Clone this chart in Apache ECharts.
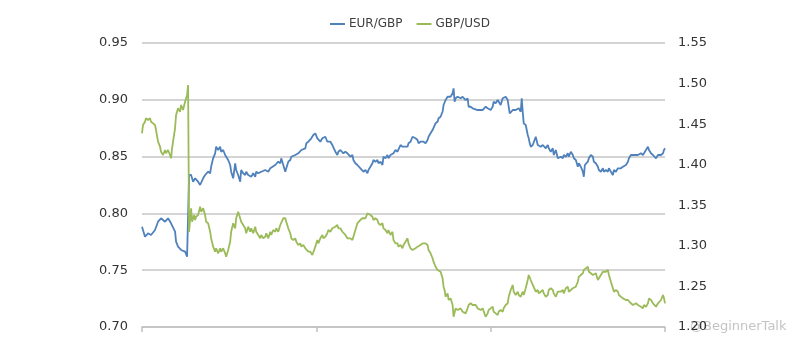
<!DOCTYPE html>
<html>
<head>
<meta charset="utf-8">
<script src="https://cdn.jsdelivr.net/npm/echarts@6/dist/echarts.min.js"></script>
<style>
html,body{margin:0;padding:0;background:#fff;}
#chart{width:797px;height:357px;}
</style>
</head>
<body>
<div id="chart"></div>
<script>
const seriesNames = ['EUR/GBP', 'GBP/USD'];
const leftTicks = [0.70, 0.75, 0.80, 0.85, 0.90, 0.95];
const rightTicks = [1.20, 1.25, 1.30, 1.35, 1.40, 1.45, 1.50, 1.55];

const eurGbpDays = [0,3,6,9,13,16,19,23,26,29,33,34,36,39,43,45,46,47,49,51,53,56,58,59,61,63,66,68,69,71,73,74,76,78,79,81,83,84,86,88,89,91,93,94,96,98,99,101,103,104,106,109,111,113,114,116,119,123,126,128,129,133,136,138,139,141,143,144,146,148,149,153,156,159,163,164,166,169,171,173,175,178,180,181,183,185,186,188,190,191,193,195,196,198,201,203,205,208,210,211,213,215,218,221,223,225,226,228,230,231,233,235,236,238,240,241,243,245,246,248,251,253,255,258,260,261,265,266,268,270,271,273,275,276,278,281,283,285,286,288,290,291,293,295,296,298,300,301,303,305,306,308,310,311,312,313,315,316,318,320,321,323,325,326,328,330,331,335,336,338,340,341,343,345,348,350,351,353,355,356,358,360,361,363,365,366,367,368,370,371,373,376,378,379,380,381,383,385,386,387,388,390,391,393,395,396,398,400,401,403,405,406,408,410,411,413,415,416,418,420,421,423,425,426,428,430,431,433,435,436,438,440,441,442,443,445,446,448,450,451,453,455,456,458,460,461,463,465,466,468,470,471,473,475,476,478,480,481,483,485,486,488,490,491,493,495,496,498,500,501,503,505,506,508,510,511,513,515,516,518,520,521,522];
const eurGbpValues = [0.7883,0.7795,0.7825,0.781,0.7854,0.7927,0.7957,0.7927,0.7957,0.7913,0.7839,0.7751,0.7707,0.7678,0.7663,0.7619,0.7625,0.834,0.8338,0.8279,0.8309,0.8279,0.825,0.8235,0.8309,0.8338,0.8367,0.8353,0.8411,0.8485,0.8529,0.8587,0.8558,0.8587,0.8543,0.8558,0.8514,0.8529,0.847,0.8426,0.8367,0.8309,0.8441,0.8382,0.8338,0.8279,0.8382,0.8353,0.8338,0.8367,0.8338,0.8323,0.8353,0.8323,0.8367,0.8353,0.8367,0.8382,0.8367,0.8397,0.8411,0.8426,0.8455,0.8441,0.8485,0.8426,0.8367,0.8397,0.8455,0.847,0.8499,0.8514,0.8529,0.8558,0.8573,0.8617,0.8631,0.8661,0.869,0.8705,0.8661,0.8631,0.8661,0.8646,0.8675,0.8631,0.8617,0.8631,0.8602,0.8587,0.8543,0.8514,0.8543,0.8558,0.8529,0.8543,0.8529,0.8499,0.8514,0.847,0.8441,0.8426,0.8397,0.8367,0.8382,0.8353,0.8382,0.8411,0.8441,0.847,0.8455,0.847,0.8441,0.8455,0.8426,0.8499,0.8485,0.8514,0.8485,0.8514,0.8529,0.8558,0.8543,0.8602,0.8587,0.8602,0.8587,0.8617,0.8631,0.8675,0.869,0.8661,0.8646,0.8617,0.8631,0.8631,0.8617,0.8646,0.8675,0.8705,0.8734,0.8749,0.8793,0.8807,0.8837,0.8851,0.8895,0.8954,0.8998,0.9027,0.9013,0.9027,0.9057,0.9101,0.8983,0.9013,0.9027,0.9042,0.9013,0.9027,0.9013,0.8998,0.9013,0.8939,0.8939,0.8925,0.8939,0.891,0.8895,0.891,0.891,0.8895,0.8939,0.8925,0.891,0.8939,0.8983,0.8969,0.8998,0.8983,0.8954,0.9013,0.9027,0.9027,0.8998,0.8983,0.8881,0.8895,0.891,0.8895,0.891,0.8925,0.8895,0.9013,0.8895,0.8793,0.8778,0.869,0.8661,0.8617,0.8587,0.8602,0.8617,0.8675,0.8602,0.8617,0.8587,0.8602,0.8587,0.8573,0.8602,0.8573,0.8543,0.8573,0.8514,0.8558,0.8485,0.8485,0.8499,0.8485,0.8514,0.8499,0.8529,0.8499,0.8543,0.8514,0.8485,0.847,0.8411,0.8441,0.8411,0.8367,0.8323,0.8426,0.8411,0.8455,0.8485,0.8514,0.8499,0.8455,0.8441,0.8411,0.8382,0.8367,0.8397,0.8367,0.8382,0.8367,0.8397,0.8367,0.8338,0.8382,0.8367,0.8397,0.8382,0.8397,0.8411,0.8411,0.8426,0.8455,0.8485,0.8514,0.8514,0.8499,0.8514,0.8514,0.8499,0.8529,0.8514,0.8529,0.8558,0.8587,0.8558,0.8529,0.8514,0.8529,0.8485,0.8514,0.8529,0.8514,0.8529,0.8558,0.8573];

const gbpUsdDays = [0,1,3,4,6,8,9,11,13,14,16,18,19,21,23,24,26,28,29,30,31,33,34,36,38,39,41,43,44,45,46,47,49,50,52,53,54,56,58,59,61,63,64,66,68,69,71,73,74,76,78,79,81,83,84,86,88,89,91,93,94,96,98,99,101,103,104,106,108,109,111,113,114,116,118,119,121,123,124,126,128,129,131,133,134,136,138,139,141,143,144,146,148,149,151,153,154,156,158,159,161,163,164,166,168,170,171,173,175,176,178,180,181,183,185,186,188,190,191,193,195,196,198,200,201,203,205,206,208,210,211,213,215,216,218,220,221,223,225,226,228,230,231,233,235,236,238,240,241,243,245,246,248,250,251,253,255,256,258,260,261,263,265,266,268,270,271,273,275,276,278,280,281,283,285,286,288,290,291,293,295,296,298,300,301,302,303,305,306,308,310,311,313,315,316,318,320,321,323,325,326,328,330,331,333,335,336,338,340,341,343,345,346,348,350,351,353,355,356,358,360,361,363,365,366,368,370,371,373,375,376,378,380,381,383,385,386,388,390,391,393,395,396,398,400,401,403,405,406,408,410,411,413,415,416,418,420,421,423,425,426,428,430,431,433,435,436,438,440,441,443,445,446,448,450,451,453,455,456,458,460,461,463,465,466,468,470,471,473,475,476,478,480,481,483,485,486,488,490,491,493,495,496,498,500,501,503,505,506,508,510,511,513,515,516,518,520,521,522];
const gbpUsdValues = [1.4387,1.4489,1.453,1.4572,1.4551,1.4572,1.453,1.451,1.4489,1.4428,1.4284,1.4222,1.416,1.412,1.4181,1.4141,1.4181,1.412,1.4079,1.4202,1.4284,1.4449,1.4613,1.4695,1.4653,1.4736,1.4674,1.4777,1.4757,1.4859,1.4982,1.3171,1.3463,1.3298,1.338,1.3319,1.3359,1.338,1.3483,1.3421,1.3463,1.338,1.3298,1.3278,1.3174,1.3093,1.299,1.2928,1.297,1.2908,1.297,1.2928,1.297,1.2908,1.2866,1.2949,1.3051,1.3174,1.3278,1.3216,1.334,1.3421,1.334,1.3298,1.3257,1.3216,1.3155,1.3236,1.3174,1.3216,1.3155,1.3236,1.3174,1.3134,1.3093,1.3134,1.3093,1.3113,1.3155,1.3093,1.3174,1.3134,1.3195,1.3174,1.3216,1.3174,1.3257,1.3278,1.334,1.334,1.3298,1.3216,1.3155,1.3093,1.3072,1.3093,1.3051,1.301,1.3031,1.299,1.301,1.297,1.2949,1.2928,1.2928,1.2887,1.2908,1.299,1.3072,1.3031,1.3093,1.3134,1.3093,1.3113,1.3155,1.3195,1.3174,1.3216,1.3216,1.3236,1.3257,1.3216,1.3216,1.3174,1.3155,1.3134,1.3093,1.3072,1.3093,1.3072,1.3093,1.3195,1.3278,1.3298,1.3319,1.334,1.3319,1.334,1.3401,1.3421,1.338,1.3359,1.3319,1.334,1.3319,1.3278,1.3257,1.3278,1.3216,1.3195,1.3155,1.3195,1.3134,1.3174,1.3072,1.3031,1.3031,1.299,1.301,1.297,1.301,1.3051,1.3093,1.3031,1.297,1.2949,1.2949,1.297,1.299,1.299,1.301,1.3031,1.301,1.3031,1.301,1.2949,1.2908,1.2847,1.2805,1.2743,1.2702,1.2723,1.2681,1.26,1.2497,1.2456,1.2373,1.2414,1.2333,1.2353,1.2271,1.2127,1.223,1.221,1.221,1.223,1.2188,1.221,1.2168,1.223,1.2271,1.2292,1.2271,1.225,1.2271,1.223,1.221,1.221,1.223,1.221,1.2127,1.2168,1.221,1.223,1.225,1.2188,1.2168,1.2148,1.2188,1.221,1.2188,1.223,1.2271,1.2292,1.2373,1.2456,1.2518,1.2435,1.2394,1.2435,1.2394,1.2373,1.2435,1.2394,1.2477,1.2579,1.2641,1.2579,1.2518,1.2497,1.2435,1.2456,1.2414,1.2435,1.2456,1.2414,1.2373,1.2394,1.2456,1.2477,1.2456,1.2414,1.2373,1.2435,1.2456,1.2435,1.2456,1.2414,1.2477,1.2497,1.2435,1.2456,1.2477,1.2456,1.2497,1.2558,1.262,1.2641,1.2662,1.2702,1.2723,1.2743,1.2681,1.2662,1.2641,1.262,1.2662,1.2579,1.26,1.2641,1.2681,1.2702,1.2681,1.2702,1.2641,1.2558,1.2477,1.2435,1.2456,1.2435,1.2394,1.2373,1.2353,1.2373,1.2333,1.2333,1.2312,1.2292,1.2271,1.2271,1.2292,1.2271,1.2271,1.225,1.223,1.2271,1.225,1.2292,1.2353,1.2333,1.2292,1.2271,1.225,1.2292,1.2271,1.2333,1.2394,1.2353,1.2292];

const zip = (xs, ys) => xs.map((x, i) => [x, ys[i]]);
const chart = echarts.init(document.getElementById('chart'));
const font = 'DejaVu Sans';
chart.setOption({
  animation: false,
  backgroundColor: '#ffffff',
  textStyle: { fontFamily: font },
  legend: {
    data: seriesNames,
    top: 13,
    left: 325,
    icon: 'rect',
    itemWidth: 15,
    itemHeight: 2,
    itemGap: 14,
    textStyle: { fontFamily: font, fontSize: 12, color: '#404040', padding: [0, 0, 0, -1] }
  },
  grid: { left: 142, right: 132, top: 43, bottom: 30 },
  xAxis: {
    type: 'value',
    min: 0, max: 522, interval: 174,
    axisLine: { lineStyle: { color: '#c0c0c0', width: 1.5 } },
    axisTick: { show: true, length: 5, lineStyle: { color: '#c0c0c0', width: 1.5 } },
    axisLabel: { show: false },
    splitLine: { show: false }
  },
  yAxis: [
    {
      type: 'value',
      min: leftTicks[0], max: leftTicks[leftTicks.length - 1], interval: 0.05,
      axisLine: { show: false }, axisTick: { show: false },
      axisLabel: { margin: 14, fontFamily: font, fontSize: 13, color: '#333333',
        formatter: v => v.toFixed(2) },
      splitLine: { lineStyle: { color: '#c6c6c6', width: 1.5 } }
    },
    {
      type: 'value',
      min: rightTicks[0], max: rightTicks[rightTicks.length - 1], interval: 0.05,
      axisLine: { show: false }, axisTick: { show: false },
      axisLabel: { margin: 13, fontFamily: font, fontSize: 13, color: '#333333',
        formatter: v => v.toFixed(2) },
      splitLine: { show: false }
    }
  ],
  graphic: [{
    type: 'text', left: 690, top: 320,
    style: { text: '@BeginnerTalk', fill: '#c4c4c4', font: '13px "DejaVu Sans"' }
  }],
  series: [
    {
      name: seriesNames[0], type: 'line', yAxisIndex: 0,
      data: zip(eurGbpDays, eurGbpValues),
      showSymbol: false, symbol: 'none',
      lineStyle: { color: '#4f81bd', width: 1.8 },
      itemStyle: { color: '#4f81bd' }
    },
    {
      name: seriesNames[1], type: 'line', yAxisIndex: 1,
      data: zip(gbpUsdDays, gbpUsdValues),
      showSymbol: false, symbol: 'none',
      lineStyle: { color: '#9bbb59', width: 1.8 },
      itemStyle: { color: '#9bbb59' }
    }
  ]
});
</script>
</body>
</html>
